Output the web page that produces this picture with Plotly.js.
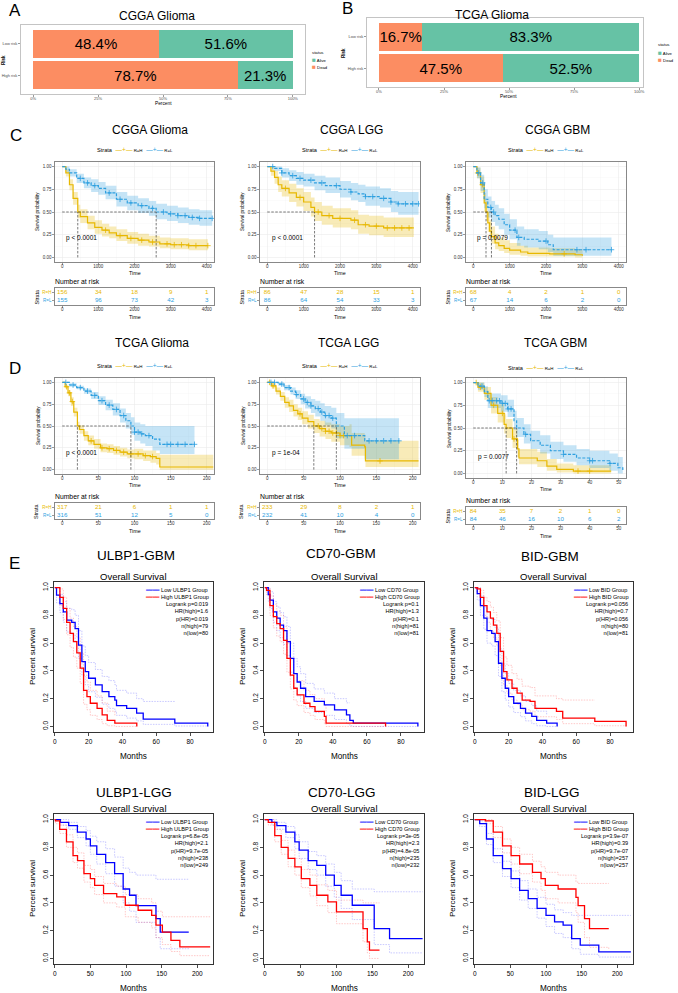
<!DOCTYPE html>
<html>
<head>
<meta charset="utf-8">
<script src="https://cdn.plot.ly/plotly-3.0.1.min.js"></script>
<style>
  html, body { margin: 0; padding: 0; background: #fff; }
  #fig { width: 678px; height: 993px; }
</style>
</head>
<body>
<div id="fig"></div>
<script>
// ---------- A / B : status by risk group (percent) ----------
const riskGroups = ['High risk', 'Low risk'];
const percentTicks = [0, 25, 50, 75, 100];
const cggaDead = [78.7, 48.4];
const cggaAlive = [21.3, 51.6];
const tcgaDead = [47.5, 16.7];
const tcgaAlive = [52.5, 83.3];

// ---------- C : CGGA Kaplan-Meier (days) ----------
// c1 = CGGA Glioma, c2 = CGGA LGG, c3 = CGGA GBM ; H = R=H, L = R=L
const c1H_t = [0, 100, 200, 300, 430, 500, 700, 900, 1100, 1300, 1500, 1800, 2100, 2400, 2700, 3000, 3500, 4030];
const c1H_s = [1, 0.93, 0.8, 0.65, 0.5, 0.45, 0.38, 0.33, 0.3, 0.27, 0.24, 0.21, 0.19, 0.17, 0.15, 0.14, 0.13, 0.13];
const c1H_lo = [1, 0.89, 0.74, 0.58, 0.43, 0.38, 0.31, 0.26, 0.23, 0.21, 0.18, 0.15, 0.13, 0.12, 0.1, 0.09, 0.08, 0.08];
const c1H_hi = [1, 0.97, 0.86, 0.72, 0.58, 0.53, 0.46, 0.41, 0.37, 0.34, 0.31, 0.28, 0.26, 0.24, 0.22, 0.21, 0.2, 0.2];
const c1H_cens = [1200, 1600, 1900, 2200, 2500, 2900, 3100, 3300, 3500, 3700, 4030];
const c1L_t = [0, 100, 200, 400, 600, 800, 1000, 1200, 1500, 1800, 2100, 2400, 2600, 2900, 3200, 3500, 3800, 4150];
const c1L_s = [1, 0.97, 0.93, 0.87, 0.82, 0.79, 0.76, 0.71, 0.64, 0.6, 0.57, 0.54, 0.5, 0.48, 0.46, 0.44, 0.43, 0.43];
const c1L_lo = [1, 0.94, 0.89, 0.82, 0.76, 0.72, 0.69, 0.64, 0.56, 0.52, 0.49, 0.46, 0.42, 0.4, 0.38, 0.36, 0.35, 0.35];
const c1L_hi = [1, 1, 0.97, 0.92, 0.88, 0.86, 0.83, 0.79, 0.72, 0.68, 0.65, 0.62, 0.59, 0.57, 0.55, 0.53, 0.52, 0.52];
const c1L_cens = [500, 700, 900, 1300, 1600, 1900, 2200, 2500, 2800, 3000, 3200, 3400, 3600, 3800, 4150];

const c2H_t = [0, 100, 200, 300, 400, 600, 800, 1000, 1200, 1300, 1500, 1800, 2100, 2300, 2500, 2800, 3200, 4030];
const c2H_s = [1, 0.95, 0.88, 0.8, 0.76, 0.71, 0.66, 0.61, 0.55, 0.5, 0.46, 0.43, 0.43, 0.41, 0.36, 0.345, 0.325, 0.325];
const c2H_lo = [1, 0.9, 0.81, 0.72, 0.67, 0.61, 0.56, 0.51, 0.45, 0.4, 0.36, 0.33, 0.33, 0.31, 0.26, 0.245, 0.225, 0.225];
const c2H_hi = [1, 1, 0.95, 0.89, 0.85, 0.81, 0.76, 0.72, 0.66, 0.61, 0.57, 0.54, 0.54, 0.52, 0.47, 0.46, 0.44, 0.44];
const c2H_cens = [500, 900, 1400, 1700, 2000, 2400, 2700, 3000, 3300, 3500, 3700, 3900];
const c2L_t = [0, 200, 400, 600, 800, 1000, 1300, 1600, 2000, 2300, 2500, 2700, 3100, 3400, 3600, 4160];
const c2L_s = [1, 0.98, 0.93, 0.9, 0.87, 0.85, 0.82, 0.79, 0.75, 0.72, 0.7, 0.67, 0.65, 0.61, 0.59, 0.59];
const c2L_lo = [1, 0.95, 0.88, 0.84, 0.8, 0.78, 0.74, 0.71, 0.66, 0.63, 0.61, 0.57, 0.55, 0.5, 0.47, 0.47];
const c2L_hi = [1, 1, 0.98, 0.96, 0.94, 0.92, 0.9, 0.88, 0.84, 0.82, 0.8, 0.78, 0.76, 0.73, 0.72, 0.72];
const c2L_cens = [150, 400, 700, 900, 1200, 1500, 1900, 2300, 2700, 2900, 3200, 3400, 3600, 3800, 4000, 4160];

const c3H_t = [0, 100, 200, 300, 350, 400, 450, 500, 600, 700, 850, 1000, 1300, 1500, 2100, 2800, 3000];
const c3H_s = [1, 0.93, 0.8, 0.6, 0.5, 0.38, 0.29, 0.23, 0.16, 0.13, 0.1, 0.08, 0.06, 0.045, 0.04, 0.03, 0.02];
const c3H_lo = [1, 0.87, 0.71, 0.5, 0.4, 0.28, 0.2, 0.15, 0.09, 0.07, 0.05, 0.03, 0.02, 0.01, 0.01, 0, 0];
const c3H_hi = [1, 0.99, 0.89, 0.71, 0.62, 0.5, 0.41, 0.34, 0.26, 0.22, 0.19, 0.16, 0.13, 0.11, 0.1, 0.09, 0.09];
const c3H_cens = [120, 250, 2500];
const c3L_t = [0, 100, 200, 300, 400, 500, 600, 700, 850, 1000, 1200, 1400, 1800, 2050, 2200, 3800];
const c3L_s = [1, 0.93, 0.82, 0.64, 0.55, 0.5, 0.46, 0.42, 0.36, 0.3, 0.22, 0.2, 0.18, 0.14, 0.085, 0.085];
const c3L_lo = [1, 0.87, 0.73, 0.54, 0.44, 0.39, 0.35, 0.31, 0.25, 0.2, 0.13, 0.11, 0.09, 0.06, 0.02, 0.02];
const c3L_hi = [1, 0.99, 0.91, 0.75, 0.67, 0.62, 0.58, 0.54, 0.48, 0.42, 0.34, 0.31, 0.29, 0.25, 0.22, 0.22];
const c3L_cens = [150, 260, 480, 560, 1150, 1250, 2000, 2850, 3100, 3800];

const cggaRiskTimes = [0, 1000, 2000, 3000, 4000];
const c1RiskH = [156, 34, 18, 9, 1];
const c1RiskL = [155, 96, 73, 42, 3];
const c2RiskH = [86, 47, 28, 15, 1];
const c2RiskL = [86, 64, 54, 33, 3];
const c3RiskH = [68, 4, 2, 1, 0];
const c3RiskL = [67, 14, 6, 2, 0];

// ---------- D : TCGA Kaplan-Meier (months) ----------
const d1H_t = [0, 4, 8, 12, 16, 21, 24, 30, 36, 44, 53, 62, 71, 80, 90, 100, 112, 122, 130, 135, 209];
const d1H_s = [1, 0.95, 0.88, 0.78, 0.66, 0.5, 0.46, 0.39, 0.33, 0.29, 0.25, 0.24, 0.22, 0.2, 0.18, 0.18, 0.16, 0.15, 0.13, 0.03, 0.03];
const d1H_lo = [1, 0.93, 0.84, 0.73, 0.61, 0.45, 0.41, 0.33, 0.28, 0.24, 0.2, 0.19, 0.17, 0.15, 0.13, 0.12, 0.1, 0.08, 0.06, 0, 0];
const d1H_hi = [1, 0.97, 0.91, 0.83, 0.71, 0.55, 0.51, 0.44, 0.39, 0.35, 0.3, 0.29, 0.27, 0.25, 0.23, 0.24, 0.22, 0.22, 0.19, 0.17, 0.17];
const d1H_cens = [6, 10, 14, 40, 55, 65, 75, 85, 95, 105, 115, 125];
const d1L_t = [0, 10, 20, 30, 40, 50, 60, 70, 80, 88, 95, 100, 108, 115, 125, 135, 183];
const d1L_s = [1, 0.97, 0.94, 0.9, 0.85, 0.79, 0.74, 0.69, 0.62, 0.56, 0.5, 0.43, 0.41, 0.39, 0.35, 0.29, 0.29];
const d1L_lo = [1, 0.95, 0.92, 0.87, 0.81, 0.74, 0.68, 0.62, 0.54, 0.47, 0.4, 0.33, 0.3, 0.27, 0.22, 0.18, 0.18];
const d1L_hi = [1, 0.99, 0.96, 0.93, 0.89, 0.84, 0.8, 0.76, 0.7, 0.65, 0.6, 0.54, 0.52, 0.5, 0.5, 0.5, 0.5];
const d1L_cens = [5, 15, 25, 35, 45, 55, 65, 75, 85, 100, 105, 110, 120, 145, 150, 160, 170, 183];

const d2H_t = [0, 6, 12, 18, 24, 30, 36, 42, 48, 56, 64, 72, 80, 88, 100, 113, 116, 134, 135, 208];
const d2H_s = [1, 0.96, 0.9, 0.84, 0.77, 0.73, 0.68, 0.64, 0.59, 0.55, 0.5, 0.47, 0.44, 0.42, 0.39, 0.39, 0.28, 0.26, 0.1, 0.1];
const d2H_lo = [1, 0.93, 0.86, 0.79, 0.71, 0.66, 0.61, 0.57, 0.52, 0.47, 0.42, 0.38, 0.35, 0.32, 0.28, 0.26, 0.16, 0.13, 0.03, 0.03];
const d2H_hi = [1, 0.99, 0.94, 0.89, 0.83, 0.8, 0.75, 0.71, 0.67, 0.63, 0.58, 0.56, 0.54, 0.52, 0.5, 0.52, 0.42, 0.4, 0.33, 0.33];
const d2H_cens = [3, 8, 45, 70, 75, 80, 85, 90, 95, 100, 105, 155];
const d2L_t = [0, 15, 23, 32, 39, 46, 52, 60, 66, 73, 79, 88, 95, 106, 134, 181];
const d2L_s = [1, 0.98, 0.94, 0.9, 0.86, 0.81, 0.77, 0.73, 0.7, 0.66, 0.62, 0.59, 0.5, 0.39, 0.33, 0.33];
const d2L_lo = [1, 0.96, 0.91, 0.86, 0.81, 0.75, 0.7, 0.65, 0.61, 0.56, 0.51, 0.47, 0.36, 0.24, 0.12, 0.12];
const d2L_hi = [1, 1, 0.97, 0.94, 0.91, 0.87, 0.84, 0.81, 0.79, 0.76, 0.73, 0.71, 0.65, 0.59, 0.59, 0.59];
const d2L_cens = [5, 10, 20, 30, 40, 50, 55, 60, 70, 75, 80, 85, 90, 110, 120, 140, 150, 160, 170, 181];

const d3H_t = [0, 1.6, 3.8, 6.1, 8.4, 10.6, 11.3, 13.5, 15.2, 15.7, 22, 25.3, 28.7, 34.4, 47.4];
const d3H_s = [1, 0.95, 0.88, 0.75, 0.66, 0.54, 0.5, 0.38, 0.27, 0.17, 0.14, 0.08, 0.044, 0.026, 0.026];
const d3H_lo = [1, 0.9, 0.81, 0.66, 0.56, 0.44, 0.39, 0.28, 0.18, 0.1, 0.07, 0.03, 0.01, 0, 0];
const d3H_hi = [1, 1, 0.95, 0.84, 0.76, 0.65, 0.6, 0.49, 0.37, 0.27, 0.24, 0.16, 0.11, 0.09, 0.09];
const d3H_cens = [1, 2.5, 5, 7, 10, 14, 36, 40];
const d3L_t = [0, 1.6, 3.8, 5, 9.5, 11.8, 14, 14.9, 17.4, 19.7, 23, 26.5, 31, 35.5, 40, 46.8, 49.7, 51.4];
const d3L_s = [1, 0.96, 0.9, 0.8, 0.77, 0.71, 0.58, 0.5, 0.43, 0.36, 0.31, 0.25, 0.21, 0.17, 0.14, 0.11, 0.063, 0.026];
const d3L_lo = [1, 0.92, 0.84, 0.72, 0.68, 0.62, 0.48, 0.4, 0.33, 0.27, 0.22, 0.16, 0.13, 0.09, 0.06, 0.03, 0, 0];
const d3L_hi = [1, 1, 0.96, 0.88, 0.86, 0.81, 0.69, 0.61, 0.54, 0.47, 0.42, 0.35, 0.31, 0.27, 0.25, 0.22, 0.18, 0.16];
const d3L_cens = [3, 5.5, 6.5, 8, 9, 10, 11, 12, 13, 18, 31, 40, 41, 47];

const tcgaRiskTimes = [0, 50, 100, 150, 200];
const gbmRiskTimes = [0, 10, 20, 30, 40, 50];
const d1RiskH = [317, 21, 6, 1, 1];
const d1RiskL = [316, 51, 12, 5, 0];
const d2RiskH = [233, 29, 8, 2, 1];
const d2RiskL = [232, 41, 10, 4, 0];
const d3RiskH = [84, 35, 7, 2, 1, 0];
const d3RiskL = [84, 46, 16, 10, 6, 2];

// ---------- E : GEPIA overall survival (months) ----------
// L = low expression group (blue), H = high expression group (red)
const e1L_t = [0, 1, 3, 5, 7, 10, 12, 14, 16, 18, 20, 24, 28, 32, 35.5, 36.5, 42.5, 48.4, 52.3, 71, 90.5];
const e1L_s = [1, 0.945, 0.885, 0.825, 0.765, 0.75, 0.705, 0.586, 0.466, 0.395, 0.347, 0.3, 0.25, 0.215, 0.19, 0.15, 0.13, 0.096, 0.053, 0.024, 0];
const e1L_lo = [1, 0.89, 0.82, 0.75, 0.68, 0.66, 0.61, 0.49, 0.37, 0.3, 0.25, 0.21, 0.16, 0.13, 0.11, 0.08, 0.06, 0.04, 0.015, 0.003, 0];
const e1L_hi = [1, 1, 0.95, 0.9, 0.85, 0.84, 0.8, 0.69, 0.58, 0.51, 0.46, 0.41, 0.36, 0.33, 0.3, 0.26, 0.24, 0.2, 0.18, 0.18, null];
const e1H_t = [0, 3, 5, 7, 9, 11, 13, 15, 17, 19, 21, 25, 28, 31, 35.5, 48.5];
const e1H_s = [1, 0.93, 0.85, 0.75, 0.67, 0.61, 0.53, 0.42, 0.26, 0.215, 0.167, 0.13, 0.084, 0.043, 0.024, 0];
const e1H_lo = [1, 0.87, 0.77, 0.66, 0.57, 0.5, 0.42, 0.31, 0.16, 0.12, 0.08, 0.05, 0.02, 0.005, 0, 0];
const e1H_hi = [1, 0.99, 0.93, 0.85, 0.78, 0.72, 0.64, 0.53, 0.37, 0.32, 0.26, 0.22, 0.17, 0.11, 0.08, null];

const e2L_t = [0, 2, 3, 5, 7, 9, 11, 13, 15, 17, 19, 21, 24, 29, 35, 41, 48, 50, 52, 90];
const e2L_s = [1, 0.95, 0.91, 0.825, 0.78, 0.73, 0.69, 0.61, 0.49, 0.38, 0.32, 0.275, 0.215, 0.18, 0.155, 0.12, 0.084, 0.043, 0.024, 0];
const e2L_lo = [1, 0.9, 0.85, 0.75, 0.69, 0.64, 0.59, 0.51, 0.39, 0.28, 0.22, 0.18, 0.13, 0.1, 0.08, 0.05, 0.02, 0.005, 0, 0];
const e2L_hi = [1, 1, 0.97, 0.9, 0.86, 0.82, 0.79, 0.72, 0.6, 0.49, 0.43, 0.38, 0.31, 0.27, 0.24, 0.2, 0.17, 0.17, null, null];
const e2H_t = [0, 1, 3, 5, 7, 9, 11, 13, 15, 17, 19, 23, 26.5, 29.5, 35, 36, 71];
const e2H_s = [1, 0.98, 0.87, 0.79, 0.74, 0.705, 0.62, 0.49, 0.37, 0.275, 0.227, 0.167, 0.143, 0.108, 0.072, 0.024, 0];
const e2H_lo = [1, 0.95, 0.8, 0.71, 0.65, 0.61, 0.52, 0.39, 0.27, 0.19, 0.15, 0.1, 0.08, 0.05, 0.02, 0, 0];
const e2H_hi = [1, 1, 0.94, 0.88, 0.83, 0.8, 0.72, 0.6, 0.48, 0.38, 0.33, 0.26, 0.23, 0.2, 0.15, 0.1, null];

const e3L_t = [0, 1.4, 3.3, 5.3, 7.2, 10, 12, 14, 16, 18, 20, 23, 27, 30, 33.7, 36.6, 42.5, 48.7];
const e3L_s = [1, 0.957, 0.87, 0.78, 0.69, 0.67, 0.61, 0.455, 0.347, 0.275, 0.215, 0.167, 0.13, 0.096, 0.072, 0.043, 0.024, 0];
const e3L_lo = [1, 0.91, 0.8, 0.7, 0.6, 0.58, 0.51, 0.36, 0.25, 0.19, 0.14, 0.1, 0.07, 0.04, 0.02, 0.005, 0, 0];
const e3L_hi = [1, 1, 0.94, 0.86, 0.78, 0.77, 0.71, 0.56, 0.45, 0.38, 0.31, 0.26, 0.22, 0.18, 0.15, 0.11, 0.08, null];
const e3H_t = [0, 1.4, 3.3, 5.3, 7.2, 9.2, 11, 13, 15, 17, 19, 22, 25, 28, 32.7, 35.6, 48.3, 52, 71, 89.5];
const e3H_s = [1, 0.99, 0.93, 0.87, 0.825, 0.78, 0.73, 0.67, 0.54, 0.395, 0.335, 0.275, 0.24, 0.19, 0.18, 0.13, 0.108, 0.06, 0.036, 0];
const e3H_lo = [1, 0.97, 0.88, 0.8, 0.75, 0.69, 0.64, 0.58, 0.44, 0.3, 0.24, 0.19, 0.16, 0.12, 0.11, 0.07, 0.05, 0.02, 0.005, 0];
const e3H_hi = [1, 1, 0.98, 0.93, 0.9, 0.86, 0.82, 0.76, 0.64, 0.5, 0.44, 0.38, 0.34, 0.29, 0.28, 0.22, 0.2, 0.19, 0.19, null];

const e4L_t = [0, 8, 19.6, 31.8, 44, 50, 59, 71.5, 84, 96, 105, 114, 142, 148, 188];
const e4L_s = [1, 0.98, 0.957, 0.91, 0.86, 0.81, 0.75, 0.69, 0.61, 0.5, 0.455, 0.38, 0.287, 0.19, 0.19];
const e4L_lo = [1, 0.96, 0.93, 0.87, 0.81, 0.75, 0.68, 0.61, 0.52, 0.4, 0.34, 0.26, 0.15, 0.07, 0.06];
const e4L_hi = [1, 1, 0.98, 0.95, 0.92, 0.88, 0.84, 0.79, 0.73, 0.65, 0.62, 0.6, 0.57, 0.57, 0.57];
const e4H_t = [0, 1, 7, 16.5, 25.7, 32, 41, 50, 56, 68.5, 87, 99, 117, 136, 142, 151, 163, 175.5, 218];
const e4H_s = [1, 0.99, 0.93, 0.84, 0.74, 0.705, 0.61, 0.575, 0.526, 0.467, 0.443, 0.383, 0.347, 0.31, 0.24, 0.19, 0.13, 0.084, 0.084];
const e4H_lo = [1, 0.97, 0.9, 0.8, 0.69, 0.65, 0.55, 0.51, 0.46, 0.4, 0.37, 0.3, 0.26, 0.22, 0.15, 0.1, 0.05, 0.02, 0.02];
const e4H_hi = [1, 1, 0.96, 0.89, 0.8, 0.76, 0.67, 0.64, 0.59, 0.54, 0.52, 0.46, 0.43, 0.4, 0.34, 0.3, 0.3, 0.3, 0.3];

const e5L_t = [0, 10, 17, 29.5, 42, 48, 60.6, 72.6, 85, 97, 106.5, 122, 152.6, 174, 220];
const e5L_s = [1, 0.98, 0.957, 0.91, 0.84, 0.78, 0.705, 0.67, 0.6, 0.526, 0.455, 0.383, 0.215, 0.143, 0.143];
const e5L_lo = [1, 0.96, 0.93, 0.87, 0.79, 0.72, 0.64, 0.6, 0.52, 0.44, 0.36, 0.28, 0.1, 0.04, 0.04];
const e5L_hi = [1, 1, 0.98, 0.95, 0.89, 0.84, 0.77, 0.74, 0.68, 0.62, 0.56, 0.5, 0.48, 0.48, 0.48];
const e5H_t = [0, 5, 14, 23, 32.6, 42, 51, 63, 72.6, 88, 100, 137, 143, 146, 160];
const e5H_s = [1, 0.98, 0.885, 0.8, 0.72, 0.66, 0.575, 0.526, 0.455, 0.407, 0.335, 0.215, 0.12, 0.06, 0.06];
const e5H_lo = [1, 0.96, 0.84, 0.75, 0.66, 0.6, 0.51, 0.45, 0.38, 0.33, 0.25, 0.12, 0.04, 0, 0];
const e5H_hi = [1, 1, 0.93, 0.85, 0.78, 0.72, 0.64, 0.6, 0.53, 0.49, 0.42, 0.4, 0.4, 0.4, 0.4];

const e6L_t = [0, 7, 16.5, 26, 39, 51, 63, 75, 87.5, 100, 112, 124, 136, 148, 174, 219];
const e6L_s = [1, 0.97, 0.86, 0.74, 0.646, 0.575, 0.49, 0.43, 0.36, 0.31, 0.263, 0.24, 0.143, 0.096, 0.048, 0.048];
const e6L_lo = [1, 0.95, 0.82, 0.69, 0.59, 0.51, 0.42, 0.36, 0.29, 0.23, 0.18, 0.15, 0.07, 0.03, 0.01, 0.01];
const e6L_hi = [1, 0.99, 0.9, 0.79, 0.7, 0.63, 0.56, 0.5, 0.44, 0.39, 0.35, 0.33, 0.31, 0.31, 0.31, 0.31];
const e6H_t = [0, 15, 26, 39, 51, 63, 81, 93, 99, 117, 142, 145, 154, 161, 188];
const e6H_s = [1, 0.99, 0.91, 0.81, 0.74, 0.68, 0.62, 0.575, 0.526, 0.5, 0.44, 0.38, 0.287, 0.215, 0.215];
const e6H_lo = [1, 0.97, 0.87, 0.76, 0.68, 0.61, 0.55, 0.49, 0.43, 0.4, 0.33, 0.26, 0.15, 0.08, 0.06];
const e6H_hi = [1, 1, 0.95, 0.86, 0.8, 0.75, 0.7, 0.66, 0.62, 0.6, 0.55, 0.54, 0.54, 0.54, 0.54];

const e1Stats = ['Logrank p=0.019', 'HR(high)=1.6', 'p(HR)=0.019', 'n(high)=79', 'n(low)=80'];
const e2Stats = ['Logrank p=0.1', 'HR(high)=1.3', 'p(HR)=0.1', 'n(high)=81', 'n(low)=81'];
const e3Stats = ['Logrank p=0.056', 'HR(high)=0.7', 'p(HR)=0.056', 'n(high)=80', 'n(low)=81'];
const e4Stats = ['Logrank p=6.8e-05', 'HR(high)=2.1', 'p(HR)=9.7e-05', 'n(high)=238', 'n(low)=249'];
const e5Stats = ['Logrank p=3e-05', 'HR(high)=2.3', 'p(HR)=4.8e-05', 'n(high)=235', 'n(low)=232'];
const e6Stats = ['Logrank p=3.9e-07', 'HR(high)=0.39', 'p(HR)=9.7e-07', 'n(high)=257', 'n(low)=257'];

// ---------- helpers ----------
const W = 678, H = 993;
const YEL = '#E7B800', BLU = '#2E9FDF';
const YEL_BAND = 'rgba(231,184,0,0.28)', BLU_BAND = 'rgba(46,159,223,0.28)';

function dx(l, r) { return [l / W, r / W]; }
function dy(t, b) { return [1 - b / H, 1 - t / H]; }

let traces = [];
let layout = {
  width: W, height: H, autosize: false,
  margin: {l: 0, r: 0, t: 0, b: 0},
  paper_bgcolor: '#fff', plot_bgcolor: 'rgba(0,0,0,0)',
  showlegend: false, barmode: 'stack',
  font: {family: 'Liberation Sans, Arial, DejaVu Sans, sans-serif', color: '#000'},
  annotations: []
};

let nAx = 0;
function newAxes(xcfg, ycfg) {
  nAx++;
  let s = nAx === 1 ? '' : String(nAx);
  layout['xaxis' + s] = Object.assign({anchor: 'y' + s, fixedrange: true}, xcfg);
  layout['yaxis' + s] = Object.assign({anchor: 'x' + s, fixedrange: true}, ycfg);
  return {x: 'x' + s, y: 'y' + s};
}

// paper-referenced text, centred on (x, y) in pixels unless told otherwise
function label(text, x, y, size, extra) {
  layout.annotations.push(Object.assign({
    text: text, x: x / W, y: 1 - y / H, xref: 'paper', yref: 'paper',
    xanchor: 'center', yanchor: 'middle',
    showarrow: false, font: {size: size}, borderpad: 0
  }, extra || {}));
}

function stepAt(t, s, x) {
  let v = s[0];
  for (let i = 0; i < t.length; i++) if (t[i] <= x) v = s[i];
  return v;
}

function median(t, s) {
  for (let i = 0; i < t.length; i++) if (s[i] <= 0.5) return t[i];
  return null;
}

// ---------- bar panels ----------
function barPanel(o) {
  let frame = {showline: true, mirror: true, linecolor: '#C4C4C4', linewidth: 1, showgrid: false, zeroline: false,
    ticks: 'outside', ticklen: 2, tickwidth: 0.5, tickcolor: '#333', tickfont: {size: 4, color: '#4D4D4D'}};
  let ax = newAxes(Object.assign({
    domain: dx(o.box[0], o.box[1]), range: o.xrange, ticklabelstandoff: -2,
    tickvals: percentTicks, ticktext: percentTicks.map(v => v + '%')
  }, frame), Object.assign({
    domain: dy(o.box[2], o.box[3]), type: 'category', range: [-0.6, 1.6]
  }, frame));

  [[o.dead, '#FC8D62'], [o.alive, '#66C2A5']].forEach(function (pair) {
    traces.push({
      type: 'bar', orientation: 'h', x: pair[0], y: riskGroups, width: 0.9,
      xaxis: ax.x, yaxis: ax.y, marker: {color: pair[1], line: {width: 0}},
      text: pair[0].map(v => v.toFixed(1) + '%'), textposition: 'inside',
      insidetextanchor: 'middle', constraintext: 'none',
      textfont: {size: 15, color: '#000'}, hoverinfo: 'skip'
    });
  });

  label(o.letter, o.letterPos[0], o.letterPos[1], 17);
  label(o.title, o.titlePos[0], o.titlePos[1], 12);
  label('Percent', o.pctPos[0], o.pctPos[1], 4.8);
  label('<b>Risk</b>', o.riskPos[0], o.riskPos[1], 4.5, {textangle: -90});
  let lx = o.legend[0], ly = o.legend[1];
  label('status', lx, ly, 4.3, {xanchor: 'left'});
  label('<span style="color:#66C2A5;font-size:6.5px">■</span> Alive', lx, ly + 7.2, 4.2, {xanchor: 'left'});
  label('<span style="color:#FC8D62;font-size:6.5px">■</span> Dead', lx, ly + 14.6, 4.2, {xanchor: 'left'});
}

barPanel({box: [21, 305, 25, 94], xrange: [-4.7, 104.7], dead: cggaDead, alive: cggaAlive,
  letter: 'A', letterPos: [15, 11], title: 'CGGA Glioma', titlePos: [157, 16],
  pctPos: [163, 103], riskPos: [3, 60], legend: [311, 52]});
barPanel({box: [367, 643, 18, 87], xrange: [-4.6, 101.5], dead: tcgaDead, alive: tcgaAlive,
  letter: 'B', letterPos: [347, 8], title: 'TCGA Glioma', titlePos: [492, 15],
  pctPos: [508, 96.5], riskPos: [344, 53], legend: [657, 45]});

// ---------- survminer panels ----------
function strataLegend() {
  return '<span style="font-size:5.6px">Strata</span>   ' +
    '<span style="color:' + YEL + ';font-size:6.5px">—+—</span> R=H   ' +
    '<span style="color:' + BLU + ';font-size:6.5px">—+—</span> R=L';
}

function kmPanel(p) {
  let l = p.box[0], r = p.box[1], t = p.box[2], b = p.box[3];
  let frame = {showline: true, mirror: true, linecolor: '#555', linewidth: 0.7, zeroline: false,
    ticks: 'outside', ticklen: 2, tickwidth: 0.5, tickcolor: '#333', tickfont: {size: 4.5, color: '#333'}};
  let ax = newAxes(Object.assign({
    domain: dx(l, r), range: p.xrange, tick0: 0, dtick: p.dtick, ticklabelstandoff: -2,
    showgrid: true, gridcolor: '#EBEBEB', gridwidth: 0.6,
    minor: {tick0: 0, dtick: p.dtick / 2, showgrid: true, gridcolor: '#F5F5F5', gridwidth: 0.4}
  }, frame), Object.assign({
    domain: dy(t, b), range: [-0.05, 1.05], tick0: 0, dtick: 0.25, tickformat: '.2f',
    showgrid: true, gridcolor: '#EBEBEB', gridwidth: 0.6,
    minor: {tick0: 0, dtick: 0.125, showgrid: true, gridcolor: '#F5F5F5', gridwidth: 0.4}
  }, frame));

  let groups = [
    {g: p.H, color: YEL, band: YEL_BAND, dash: 'solid'},
    {g: p.L, color: BLU, band: BLU_BAND, dash: '3px,1.5px'}
  ];
  groups.forEach(function (o) {
    traces.push({type: 'scatter', mode: 'lines', x: o.g.t, y: o.g.lo, xaxis: ax.x, yaxis: ax.y,
      line: {width: 0, shape: 'hv'}, hoverinfo: 'skip'});
    traces.push({type: 'scatter', mode: 'lines', x: o.g.t, y: o.g.hi, xaxis: ax.x, yaxis: ax.y,
      line: {width: 0, shape: 'hv'}, fill: 'tonexty', fillcolor: o.band, hoverinfo: 'skip'});
  });
  groups.forEach(function (o) {
    traces.push({type: 'scatter', mode: 'lines', x: o.g.t, y: o.g.s, xaxis: ax.x, yaxis: ax.y,
      line: {width: 1.2, shape: 'hv', color: o.color, dash: o.dash}, hoverinfo: 'skip'});
    traces.push({type: 'scatter', mode: 'markers', x: o.g.cens,
      y: o.g.cens.map(c => stepAt(o.g.t, o.g.s, c)), xaxis: ax.x, yaxis: ax.y,
      marker: {symbol: 'cross-thin', size: 4, line: {width: 0.8, color: o.color}}, hoverinfo: 'skip'});
  });
  let mH = median(p.H.t, p.H.s), mL = median(p.L.t, p.L.s);
  traces.push({type: 'scatter', mode: 'lines', xaxis: ax.x, yaxis: ax.y, hoverinfo: 'skip',
    x: [0, Math.max(mH, mL), null, mH, mH, null, mL, mL],
    y: [0.5, 0.5, null, 0, 0.5, null, 0, 0.5],
    line: {width: 0.6, color: '#222', dash: '2.5px,1.5px'}});

  layout.annotations.push({text: p.pText, x: p.pPos[0], y: p.pPos[1], xref: ax.x, yref: ax.y,
    xanchor: 'left', yanchor: 'middle', showarrow: false, font: {size: 6.5}});

  // risk table
  let tt = p.tbox[0], tb = p.tbox[1];
  let tx = newAxes(Object.assign({
    domain: dx(l, r), range: p.xrange, tickvals: p.riskTimes, showgrid: false, ticklabelstandoff: -2
  }, frame), Object.assign({
    domain: dy(tt, tb), range: [0.5, 2.5], tickvals: [1, 2], showgrid: false,
    ticktext: ['<span style="color:' + BLU + '">R=L</span>', '<span style="color:' + YEL + '">R=H</span>'],
    tickfont: {size: 3.8}
  }, frame));
  traces.push({type: 'scatter', mode: 'text', x: p.riskTimes, y: p.riskTimes.map(() => 2),
    text: p.riskH.map(String), textfont: {size: 6.2, color: YEL}, xaxis: tx.x, yaxis: tx.y,
    cliponaxis: false, hoverinfo: 'skip'});
  traces.push({type: 'scatter', mode: 'text', x: p.riskTimes, y: p.riskTimes.map(() => 1),
    text: p.riskL.map(String), textfont: {size: 6.2, color: BLU}, xaxis: tx.x, yaxis: tx.y,
    cliponaxis: false, hoverinfo: 'skip'});

  let cx = (l + r) / 2;
  label(p.title, p.titlePos[0], p.titlePos[1], 12);
  label(strataLegend(), cx, t - 13 + (p.legendShift || 0), 4.4);
  label('Survival probability', l - 17, (t + b) / 2, 4.6, {textangle: -90});
  label('Time', cx, b + 11, 5.3);
  label('Number at risk', l - 1, tt - 6.5, 6.8, {xanchor: 'left'});
  label('Strata', l - 19, (tt + tb) / 2, 5.5, {textangle: -90});
  label('Time', cx, tb + 12, 5.3);
}

function grp(t, s, lo, hi, cens) { return {t: t, s: s, lo: lo, hi: hi, cens: cens}; }

kmPanel({box: [55, 214, 162, 262], tbox: [288, 305], xrange: [-200, 4200], dtick: 1000,
  H: grp(c1H_t, c1H_s, c1H_lo, c1H_hi, c1H_cens), L: grp(c1L_t, c1L_s, c1L_lo, c1L_hi, c1L_cens),
  riskTimes: cggaRiskTimes, riskH: c1RiskH, riskL: c1RiskL,
  pText: 'p < 0.0001', pPos: [50, 0.21], title: 'CGGA Glioma', titlePos: [150, 130]});
kmPanel({box: [260, 420, 162, 262], tbox: [288, 305], xrange: [-200, 4200], dtick: 1000,
  H: grp(c2H_t, c2H_s, c2H_lo, c2H_hi, c2H_cens), L: grp(c2L_t, c2L_s, c2L_lo, c2L_hi, c2L_cens),
  riskTimes: cggaRiskTimes, riskH: c2RiskH, riskL: c2RiskL,
  pText: 'p < 0.0001', pPos: [75, 0.21], title: 'CGGA LGG', titlePos: [351, 130]});
kmPanel({box: [466, 626, 162, 262], tbox: [288, 305], xrange: [-200, 4200], dtick: 1000,
  H: grp(c3H_t, c3H_s, c3H_lo, c3H_hi, c3H_cens), L: grp(c3L_t, c3L_s, c3L_lo, c3L_hi, c3L_cens),
  riskTimes: cggaRiskTimes, riskH: c3RiskH, riskL: c3RiskL,
  pText: 'p = 0.0079', pPos: [47, 0.21], title: 'CGGA GBM', titlePos: [557, 130]});

kmPanel({box: [55, 214, 378, 474], tbox: [503, 519], xrange: [-10, 210], dtick: 50,
  H: grp(d1H_t, d1H_s, d1H_lo, d1H_hi, d1H_cens), L: grp(d1L_t, d1L_s, d1L_lo, d1L_hi, d1L_cens),
  riskTimes: tcgaRiskTimes, riskH: d1RiskH, riskL: d1RiskL,
  pText: 'p < 0.0001', pPos: [2.5, 0.19], title: 'TCGA Glioma', titlePos: [152, 343]});
kmPanel({box: [260, 420, 378, 474], tbox: [503, 519], xrange: [-10, 210], dtick: 50,
  H: grp(d2H_t, d2H_s, d2H_lo, d2H_hi, d2H_cens), L: grp(d2L_t, d2L_s, d2L_lo, d2L_hi, d2L_cens),
  riskTimes: tcgaRiskTimes, riskH: d2RiskH, riskL: d2RiskL,
  pText: 'p = 1e-04', pPos: [4, 0.19], title: 'TCGA LGG', titlePos: [348, 343]});
kmPanel({box: [466, 626, 378, 478], tbox: [507, 524], xrange: [-2.5, 52.5], dtick: 10, legendShift: 2,
  H: grp(d3H_t, d3H_s, d3H_lo, d3H_hi, d3H_cens), L: grp(d3L_t, d3L_s, d3L_lo, d3L_hi, d3L_cens),
  riskTimes: gbmRiskTimes, riskH: d3RiskH, riskL: d3RiskL,
  pText: 'p = 0.0077', pPos: [0.8, 0.18], title: 'TCGA GBM', titlePos: [555, 343]});

label('C', 15.5, 135.5, 17);
label('D', 15, 368, 17);
label('E', 14.5, 563, 17);

// ---------- GEPIA panels ----------
function gepiaPanel(p) {
  let l = p.box[0], r = p.box[1], t = p.box[2], b = p.box[3];
  let frame = {showline: true, mirror: true, linecolor: '#000', linewidth: 0.8, zeroline: false, showgrid: false,
    ticks: 'outside', ticklen: 3, tickwidth: 0.7, tickcolor: '#000', tickfont: {size: 6.5, color: '#000'}};
  let ax = newAxes(Object.assign({domain: dx(l, r), range: p.xrange, tickvals: p.xticks}, frame),
    Object.assign({domain: dy(t, b), range: [-0.04, 1.04], tickvals: [0, 0.2, 0.4, 0.6, 0.8, 1],
      tickformat: '.1f', tickangle: -90}, frame));

  [[p.L, 'rgba(70,70,255,0.42)'], [p.H, 'rgba(255,70,70,0.42)']].forEach(function (o) {
    [o[0].lo, o[0].hi].forEach(function (ci) {
      traces.push({type: 'scatter', mode: 'lines', x: o[0].t, y: ci, xaxis: ax.x, yaxis: ax.y,
        line: {width: 0.7, shape: 'hv', color: o[1], dash: '1.5px,1.2px'}, hoverinfo: 'skip'});
    });
  });
  [[p.L, '#0000FF'], [p.H, '#FF0000']].forEach(function (o) {
    traces.push({type: 'scatter', mode: 'lines', x: o[0].t, y: o[0].s, xaxis: ax.x, yaxis: ax.y,
      line: {width: 1.3, shape: 'hv', color: o[1]}, hoverinfo: 'skip'});
  });

  let cx = (l + r) / 2;
  label(p.title, p.titleX, p.titleY, 13.5);
  label('Overall Survival', cx, t - 6, 9.5);
  label('Percent survival', l - 22, (t + b) / 2, 8, {textangle: -90});
  label('Months', cx, b + 24, 8.2);
  label('<span style="color:#0000FF">━━━━</span> Low ' + p.gene + ' Group<br>' +
        '<span style="color:#FF0000">━━━━</span> High ' + p.gene + ' Group',
        r - 3, t + 3.5, 5.6, {xanchor: 'right', yanchor: 'top', align: 'left'});
  label(p.stats.join('<br>'), r - 4, t + 17.5, 5.6, {xanchor: 'right', yanchor: 'top', align: 'right'});
}

const gbmMonths = [0, 20, 40, 60, 80];
const lggMonths = [0, 50, 100, 150, 200];

gepiaPanel({box: [54, 213, 582, 732], xrange: [-0.5, 93.6], xticks: gbmMonths, gene: 'ULBP1',
  L: grp(e1L_t, e1L_s, e1L_lo, e1L_hi), H: grp(e1H_t, e1H_s, e1H_lo, e1H_hi),
  stats: e1Stats, title: 'ULBP1-GBM', titleX: 136, titleY: 555});
gepiaPanel({box: [264, 424, 582, 732], xrange: [-0.5, 93.6], xticks: gbmMonths, gene: 'CD70',
  L: grp(e2L_t, e2L_s, e2L_lo, e2L_hi), H: grp(e2H_t, e2H_s, e2H_lo, e2H_hi),
  stats: e2Stats, title: 'CD70-GBM', titleX: 341, titleY: 553});
gepiaPanel({box: [474, 633, 582, 732], xrange: [-0.5, 93.6], xticks: gbmMonths, gene: 'BID',
  L: grp(e3L_t, e3L_s, e3L_lo, e3L_hi), H: grp(e3H_t, e3H_s, e3H_lo, e3H_hi),
  stats: e3Stats, title: 'BID-GBM', titleX: 550, titleY: 556});
gepiaPanel({box: [54, 213, 814, 964], xrange: [-1, 222], xticks: lggMonths, gene: 'ULBP1',
  L: grp(e4L_t, e4L_s, e4L_lo, e4L_hi), H: grp(e4H_t, e4H_s, e4H_lo, e4H_hi),
  stats: e4Stats, title: 'ULBP1-LGG', titleX: 134, titleY: 792});
gepiaPanel({box: [264, 424, 814, 964], xrange: [-1, 222], xticks: lggMonths, gene: 'CD70',
  L: grp(e5L_t, e5L_s, e5L_lo, e5L_hi), H: grp(e5H_t, e5H_s, e5H_lo, e5H_hi),
  stats: e5Stats, title: 'CD70-LGG', titleX: 342, titleY: 792});
gepiaPanel({box: [474, 633, 814, 964], xrange: [-1, 222], xticks: lggMonths, gene: 'BID',
  L: grp(e6L_t, e6L_s, e6L_lo, e6L_hi), H: grp(e6H_t, e6H_s, e6H_lo, e6H_hi),
  stats: e6Stats, title: 'BID-LGG', titleX: 552, titleY: 792});

Plotly.newPlot('fig', traces, layout, {displayModeBar: false, staticPlot: true});
</script>
</body>
</html>
